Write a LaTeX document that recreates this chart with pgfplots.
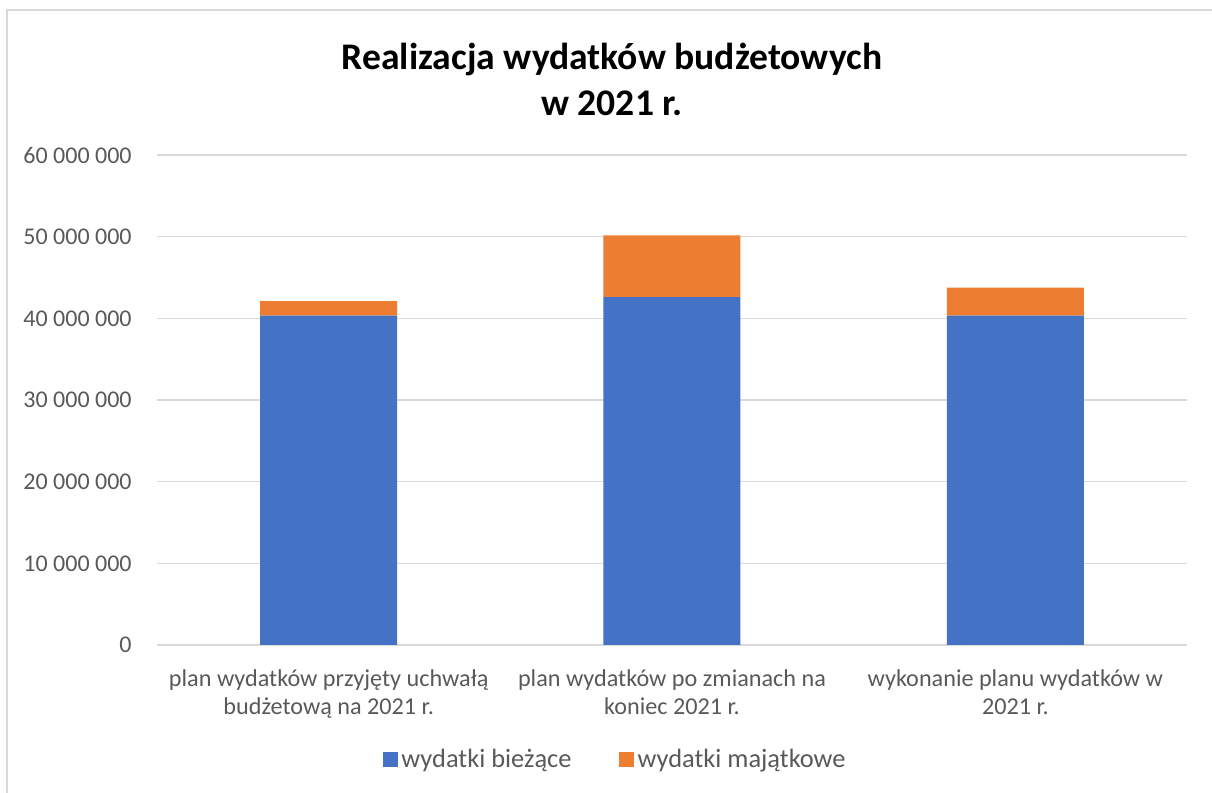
\documentclass[border=0pt]{standalone}
\usepackage{pgfplots}
\pgfplotsset{compat=1.18}
\usepackage{fontspec}
\setmainfont{Carlito}
\definecolor{Blue}{HTML}{4472C4}
\definecolor{Orange}{HTML}{ED7D31}
\definecolor{Txt}{HTML}{595959}
\definecolor{Grid}{HTML}{D9D9D9}
\begin{document}
\begin{tikzpicture}
  \begin{axis}[
    scale only axis,
    width=515pt, height=245pt,
    ybar stacked, bar width=68.5pt,
    xmin=-0.5, xmax=2.5, ymin=0, ymax=60000000,
    enlargelimits=false,
    xtick={0,1,2},
    xticklabels={{plan wydatków przyjęty uchwałą\\budżetową na 2021 r.},
                 {plan wydatków po zmianach na\\koniec 2021 r.},
                 {wykonanie planu wydatków w\\2021 r.}},
    xticklabel style={align=center, font=\fontsize{12.1}{14}\selectfont, text=Txt, inner sep=0pt, yshift=-12pt},
    ytick={0,10000000,20000000,30000000,40000000,50000000,60000000},
    yticklabels={0,10 000 000,20 000 000,30 000 000,40 000 000,50 000 000,60 000 000},
    scaled y ticks=false,
    yticklabel style={font=\fontsize{12}{14}\selectfont, text=Txt, inner sep=0pt, xshift=-12.5pt},
    tick style={draw=none},
    axis line style={draw=none},
    ymajorgrids, grid style={Grid, line width=0.8pt},
    legend columns=2,
    legend style={draw=none, at={(axis description cs:0.4456,-0.2347)}, anchor=center,
      font=\fontsize{13.2}{15}\selectfont, text=Txt, inner sep=1pt,
      nodes={inner xsep=1.8pt},
      /tikz/every even column/.append style={column sep=22pt}},
    legend image code/.code={\draw[#1,draw=none] (0pt,-3.75pt) rectangle (7.5pt,3.75pt);},
  ]
  \addplot[fill=Blue, draw=none] coordinates {(0,40320000) (1,42590000) (2,40320000)};
  \addlegendentry{wydatki bieżące}
  \addplot[fill=Orange, draw=none] coordinates {(0,1780000) (1,7570000) (2,3450000)};
  \addlegendentry{wydatki majątkowe}
  \end{axis}
  \node[align=center, font=\bfseries\fontsize{18.8}{23}\selectfont] at (227.5pt,283pt)
    {Realizacja wydatków budżetowych\\w 2021 r.};
  \draw[Grid, line width=1pt] (-75pt,-90pt) rectangle (540pt,317.5pt);
  \pgfresetboundingbox
  \path[use as bounding box] (-78.5pt,-74pt) rectangle (527.5pt,322.5pt);
\end{tikzpicture}
\end{document}
